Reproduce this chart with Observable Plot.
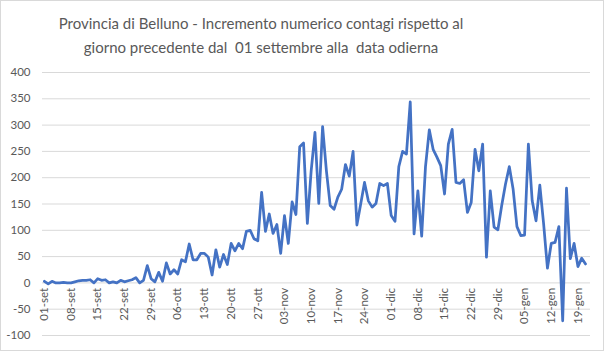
<!DOCTYPE html>
<html>
<head>
<meta charset="utf-8">
<script src="https://cdn.jsdelivr.net/npm/d3@7"></script>
<script src="https://cdn.jsdelivr.net/npm/@observablehq/plot@0.6"></script>
<style>
  html, body { margin: 0; padding: 0; background: #fff; }
  #wrap { position: relative; width: 604px; height: 351px; overflow: hidden; background: #fff; }
  #border { position: absolute; left: 0; top: 0; width: 604px; height: 351px; box-sizing: border-box; border: 1px solid #d9d9d9; pointer-events: none; }
  #title { position: absolute; left: 0; top: 11px; width: 522px; text-align: center; font-family: Lato, sans-serif; font-size: 15px; line-height: 24px; color: #595959; white-space: pre; }
  #chart { position: absolute; left: 0; top: 0; }
</style>
</head>
<body>
<div id="wrap">
  <div id="chart"></div>
  <div id="title"></div>
  <div id="border"></div>
</div>
<script>
const titleLines = [
  "Provincia di Belluno - Incremento numerico contagi rispetto al",
  "giorno precedente dal  01 settembre alla  data odierna"
];
const startDate = Date.UTC(2020, 8, 1);
const values = [
  3, -2, 3, 0, 0, 1, 0, 0, 2, 4,
  5, 5, 6, 0, 8, 5, 6, 0, 2, 0,
  5, 2, 4, 6, 10, 0, 5, 33, 8, 2,
  20, 3, 38, 17, 25, 17, 44, 40, 74, 44,
  44, 56, 56, 49, 15, 63, 30, 54, 35, 75,
  61, 75, 65, 98, 100, 84, 80, 172, 98, 131,
  94, 111, 56, 128, 75, 154, 130, 259, 266, 113,
  213, 286, 151, 297, 213, 147, 140, 163, 178, 225,
  203, 250, 110, 150, 191, 156, 144, 151, 189, 185,
  189, 128, 117, 221, 250, 245, 344, 93, 175, 89,
  221, 291, 254, 239, 223, 169, 264, 292, 191, 189,
  196, 134, 153, 254, 213, 264, 49, 175, 106, 101,
  147, 188, 221, 178, 107, 90, 91, 264, 156, 118,
  186, 112, 28, 75, 77, 107, -72, 180, 46, 75,
  31, 47, 36
];
const xTickLabels = ["01-set","08-set","15-set","22-set","29-set","06-ott","13-ott","20-ott","27-ott","03-nov","10-nov","17-nov","24-nov","01-dic","08-dic","15-dic","22-dic","29-dic","05-gen","12-gen","19-gen"];
const xTickDays = [0,7,14,21,28,35,42,49,56,63,70,77,84,91,98,105,112,119,126,133,140];
const yTicks = [-100, -50, 0, 50, 100, 150, 200, 250, 300, 350, 400];

const DAY = 864e5;
const dayDate = (i) => new Date(startDate + i * DAY);
const rows = values.map((v, i) => ({date: dayDate(i), value: v}));
const ticks = xTickLabels.map((t, i) => ({date: dayDate(xTickDays[i]), label: t}));

document.getElementById("title").textContent = titleLines.join("\n");

const labelColor = "#595959";
const chart = Plot.plot({
  width: 604,
  height: 351,
  marginTop: 72,
  marginBottom: 16,
  marginLeft: 42,
  marginRight: 14,
  style: {fontFamily: "Lato, sans-serif", background: "transparent"},
  x: {type: "utc", domain: [dayDate(-0.5), dayDate(143.3)], axis: null},
  y: {domain: [-100, 400], axis: null},
  marks: [
    Plot.gridY(yTicks, {stroke: "#d9d9d9", strokeOpacity: 1, strokeWidth: 1}),
    Plot.axisY(yTicks, {tickSize: 0, tickPadding: 12, fill: labelColor, fontSize: 11.5, label: null, tickFormat: d => String(d)}),
    Plot.lineY(rows, {x: "date", y: "value", stroke: "#4472C4", strokeWidth: 2.75, strokeLinejoin: "round"}),
    Plot.text(ticks, {x: "date", y: () => 0, text: "label", rotate: -90, textAnchor: "end", dy: 5, fill: labelColor, fontSize: 11.5})
  ]
});
document.getElementById("chart").appendChild(chart);
</script>
</body>
</html>
